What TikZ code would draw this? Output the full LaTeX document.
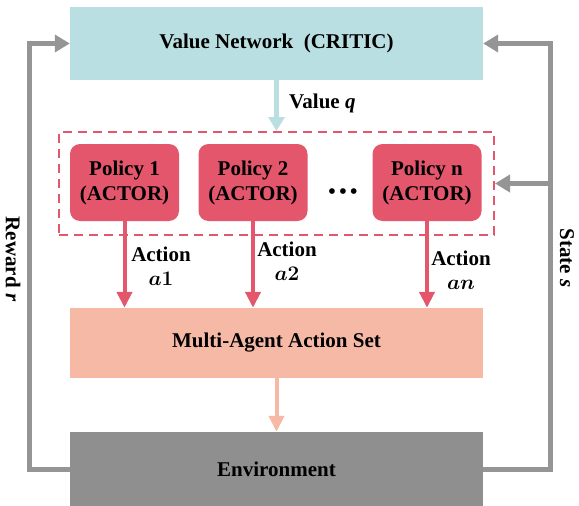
\documentclass[tikz,border=0pt]{standalone}
\usepackage{fontspec}
\setmainfont{Liberation Serif}
\usetikzlibrary{arrows.meta}
\definecolor{criticblue}{HTML}{B9DFE2}
\definecolor{actorred}{HTML}{E3566C}
\definecolor{setsalmon}{HTML}{F6B9A6}
\definecolor{envgray}{HTML}{8F8F8F}
\definecolor{loopgray}{HTML}{959595}

\begin{document}
\begin{tikzpicture}[x=1pt,y=-1pt,
        font=\bfseries\fontsize{21}{24}\selectfont,
        block/.style={inner sep=0pt, minimum width=413pt},
        policy/.style={fill=actorred, rounded corners=10pt, inner sep=0pt,
            minimum width=109pt, minimum height=77pt, align=center,
            font=\bfseries\fontsize{21}{25}\selectfont},
        looparrow/.style={draw=loopgray, line width=5pt,
            -{Triangle[width=17pt,length=15pt]}},
        actarrow/.style={draw=actorred, line width=4pt,
            -{Triangle[width=15pt,length=16pt]}},
        lbl/.style={align=center, inner sep=0pt}]
    \useasboundingbox (0,0) rectangle (579,506);
    % boxes
    \node[block, fill=criticblue, minimum height=73pt] (critic) at (276.5,43.5) {Value Network~~(CRITIC)};
    \node[draw=actorred, dashed, line width=2pt, dash pattern=on 9pt off 6pt,
        minimum width=435pt, minimum height=103pt] (agents) at (276.5,183.5) {};
    \node[policy] (pol1) at (124.5,182.5) {Policy 1\\(ACTOR)};
    \node[policy] (pol2) at (253,182.5) {Policy 2\\(ACTOR)};
    \node[policy] (poln) at (427,182.5) {Policy n\\(ACTOR)};
    \node[inner sep=0pt] (dots) at (343,194) {\fontsize{21}{21}\selectfont\textbullet\,\textbullet\,\textbullet};
    \node[block, fill=setsalmon, minimum height=70pt] (actset) at (276.5,343) {Multi-Agent Action Set};
    \node[block, fill=envgray, minimum height=74pt] (env) at (276.5,469) {Environment};
    % arrows
    \draw[draw=criticblue, line width=5pt, -{Triangle[width=16pt,length=14pt]}]
        (critic.south) -- (critic.south |- agents.north);
    \node[lbl, anchor=west] (valq) at (289,103) {Value \textit{q}};
    \draw[actarrow] (pol1.south) -- (pol1.south |- actset.north);
    \draw[actarrow] (pol2.south) -- (pol2.south |- actset.north);
    \draw[actarrow] (poln.south) -- (poln.south |- actset.north);
    \node[lbl] (act1) at (161,266) {Action\\{\boldmath$a1$}};
    \node[lbl] (act2) at (287,261) {Action\\{\boldmath$a2$}};
    \node[lbl] (actn) at (461,270) {Action\\{\boldmath$an$}};
    \draw[draw=setsalmon, line width=4pt, -{Triangle[width=15pt,length=16pt]}]
        (actset.south) -- (env.north);
    % feedback loops
    \coordinate (lturn) at (29,43.5);
    \coordinate (rturn) at (550,43.5);
    \draw[looparrow] (env.west) -| (lturn) -- (critic.west);
    \draw[looparrow] (env.east) -| (rturn) -- (critic.east);
    \draw[looparrow] (rturn |- agents.east) -- (agents.east);
    \node[lbl, rotate=-90] (reward) at (13,259) {Reward \textit{r}};
    \node[lbl, rotate=-90] (state) at (567,258) {State \textit{s}};
\end{tikzpicture}
\end{document}
